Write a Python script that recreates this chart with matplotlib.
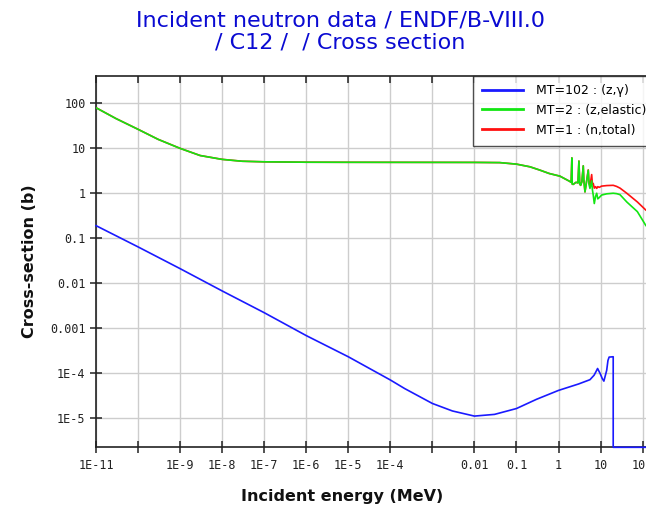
import numpy as np
import matplotlib
matplotlib.use("Agg")
import matplotlib.pyplot as plt

# ---- data: ENDF/B-VIII.0 C12 incident-neutron cross sections (MeV, barns) ----
elastic_energy = [1e-11, 3e-11, 1e-10, 3e-10, 1e-9, 3e-9, 1e-8, 3e-8, 1e-7, 1e-6,
                  1e-5, 1e-4, 1e-3, 0.01, 0.04, 0.1, 0.21, 0.36, 0.6, 1.08,
                  1.8, 2.0, 2.08, 2.12, 2.24, 2.6, 2.9, 3.06, 3.2, 3.36,
                  3.6, 3.88, 4.0, 4.26, 4.6, 5.1, 5.3, 5.6, 6.15, 6.4,
                  6.7, 7.1, 7.6, 8.1, 8.6, 9.3, 10.6, 14.0, 20.0, 24.0,
                  29.0, 42.0, 75.0, 120.0, 150.0]
elastic_xs = [79.8, 45.7, 26.4, 15.8, 9.95, 6.9, 5.66, 5.15, 5.0, 4.9,
              4.88, 4.87, 4.86, 4.85, 4.8, 4.44, 3.87, 3.27, 2.75, 2.4,
              1.86, 1.75, 6.1, 1.6, 1.57, 1.75, 1.7, 5.2, 1.6, 1.5,
              1.8, 4.07, 2.0, 1.07, 1.7, 3.25, 1.6, 1.28, 1.9, 1.2,
              0.91, 0.59, 0.85, 1.0, 0.75, 0.8, 0.91, 0.97, 1.0, 0.98,
              0.93, 0.64, 0.39, 0.19, 0.16]

total_energy = [1e-11, 3e-11, 1e-10, 3e-10, 1e-9, 3e-9, 1e-8, 3e-8, 1e-7, 1e-6,
                1e-5, 1e-4, 1e-3, 0.01, 0.04, 0.1, 0.21, 0.36, 0.6, 1.08,
                1.8, 2.0, 2.08, 2.12, 2.24, 2.6, 2.9, 3.06, 3.2, 3.36,
                3.6, 3.88, 4.0, 4.26, 4.6, 5.1, 5.3, 5.6, 6.15, 6.4,
                6.7, 7.1, 7.6, 8.1, 8.6, 9.3, 10.6, 14.0, 20.0, 24.0,
                29.0, 42.0, 75.0, 120.0, 150.0]
total_xs = [80.0, 45.8, 26.46, 15.82, 9.97, 6.9, 5.67, 5.15, 5.0, 4.9,
            4.88, 4.87, 4.86, 4.85, 4.8, 4.44, 3.87, 3.27, 2.75, 2.4,
            1.86, 1.75, 6.1, 1.6, 1.57, 1.75, 1.7, 5.2, 1.6, 1.5,
            1.8, 4.07, 2.0, 1.07, 1.7, 3.3, 1.75, 1.45, 2.6, 1.6,
            1.65, 1.3, 1.4, 1.28, 1.4, 1.35, 1.44, 1.48, 1.5, 1.42,
            1.3, 1.0, 0.64, 0.42, 0.38]

capture_energy = [1e-11, 1e-10, 1e-9, 1e-8, 1e-7, 1e-6, 1e-5, 1e-4, 2.2e-4, 1e-3,
                  3e-3, 0.01, 0.03, 0.1, 0.3, 1.0, 3.0, 5.6, 7.0, 7.7,
                  8.5, 9.8, 11.0, 12.0, 14.0, 15.0, 16.0, 20.0, 20.0, 150.0]
capture_xs = [0.19, 0.064, 0.021, 6.7e-3, 2.2e-3, 6.8e-4, 2.3e-4, 7.0e-5, 4.5e-5, 2.1e-5,
              1.43e-5, 1.1e-5, 1.2e-5, 1.62e-5, 2.6e-5, 4.1e-5, 5.7e-5, 7.1e-5, 8.9e-5, 1.05e-4,
              1.26e-4, 9.7e-5, 7.5e-5, 6.6e-5, 1.15e-4, 1.9e-4, 2.26e-4, 2.3e-4, 0.0, 0.0]

x_tick_values = [1e-11, 1e-10, 1e-9, 1e-8, 1e-7, 1e-6, 1e-5, 1e-4, 1e-3, 1e-2, 1e-1, 1, 10, 100]
x_tick_labels = ["1E-11", "", "1E-9", "1E-8", "1E-7", "1E-6", "1E-5", "1E-4", "",
                 "0.01", "0.1", "1", "10", "100"]
y_tick_values = [1e-5, 1e-4, 1e-3, 1e-2, 1e-1, 1, 10, 100]
y_tick_labels = ["1E-5", "1E-4", "0.001", "0.01", "0.1", "1", "10", "100"]

series_labels = ["MT=102 : (z,\u03b3)", "MT=2 : (z,elastic)", "MT=1 : (n,total)"]
series_colors = ["#1a1aff", "#12e612", "#ff1010"]

# ---- figure ----
W, H = 646, 515
fig = plt.figure(figsize=(W / 100, H / 100), dpi=100)
ax = fig.add_axes([96 / W, (H - 447.3) / H, (650 - 96) / W, (447.3 - 75.7) / H])

ax.set_xscale("log")
ax.set_yscale("log")
x_lo, x_hi = 1e-11, 150.0
y_lo, y_hi = 10 ** -5.653, 10 ** 2.615
ax.set_xlim(x_lo, x_hi)
ax.set_ylim(y_lo, y_hi)

# zero capture above 20 MeV sits on the bottom of the axis
cap = np.clip(np.array(capture_xs), y_lo, None)

lw = 1.2
l_tot, = ax.plot(total_energy, total_xs, color=series_colors[2], lw=lw, zorder=3)
l_el, = ax.plot(elastic_energy, elastic_xs, color=series_colors[1], lw=lw, zorder=4)
l_cap, = ax.plot(capture_energy, cap, color=series_colors[0], lw=lw, zorder=5, clip_on=False)

# ticks and grid
ax.set_xticks(x_tick_values)
ax.set_xticklabels(x_tick_labels)
ax.set_yticks(y_tick_values)
ax.set_yticklabels(y_tick_labels)
ax.minorticks_off()
ax.grid(True, which="major", color="#cdcdcd", lw=1.0)
ax.set_axisbelow(True)

for lab in ax.get_xticklabels() + ax.get_yticklabels():
    lab.set_fontfamily("DejaVu Sans Mono")
    lab.set_fontsize(8.5)
    lab.set_color("#222222")

ax.tick_params(axis="both", which="major", direction="inout", length=9, width=1.1,
               color="#222222", top=True, right=False)
ax.tick_params(axis="x", pad=4)
ax.tick_params(axis="y", pad=3)
for side in ["top", "left", "bottom"]:
    ax.spines[side].set_color("#222222")
    ax.spines[side].set_linewidth(1.2)
ax.spines["right"].set_visible(False)

# top ticks point inward only
for t in ax.xaxis.get_major_ticks():
    t.tick2line.set_markersize(5)
    t.tick2line.set_marker(3)  # TICKDOWN

ax.set_xlabel("Incident energy (MeV)", fontsize=11.5, fontweight="bold", color="#111111")
ax.set_ylabel("Cross-section (b)", fontsize=11.5, fontweight="bold", color="#111111")
ax.xaxis.set_label_coords((342 - 96) / 554, (447.3 - 497) / 371.6)
ax.xaxis.label.set_va("center")
ax.yaxis.set_label_coords((30 - 96) / 554, 0.5)
ax.yaxis.label.set_va("center")

fig.text(340 / W, (H - 20) / H, "Incident neutron data / ENDF/B-VIII.0",
         ha="center", va="center", fontsize=16, color="#0a0ad2")
fig.text(340 / W, (H - 42) / H, "/ C12 /  / Cross section",
         ha="center", va="center", fontsize=16, color="#0a0ad2")

leg = ax.legend([l_cap, l_el, l_tot], series_labels, loc="upper left",
                bbox_to_anchor=(473.3 / W, (H - 75.7) / H), bbox_transform=fig.transFigure,
                fontsize=9, frameon=True, fancybox=False, edgecolor="#222222",
                handlelength=3.3, handleheight=1.0, handletextpad=1.05,
                labelspacing=0.55, borderpad=0.7, borderaxespad=0.0)
leg.get_frame().set_linewidth(1.0)
for h in leg.get_lines():
    h.set_linewidth(2.0)

fig.savefig("out.png", dpi=100)
